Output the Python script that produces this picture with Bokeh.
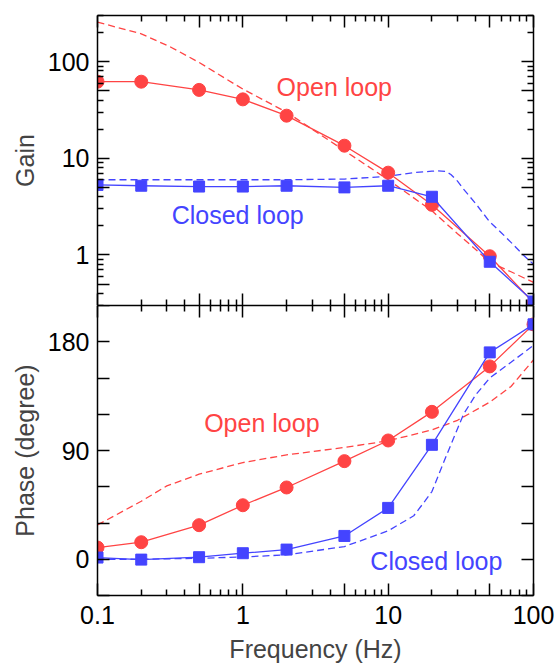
from bokeh.plotting import figure
from bokeh.layouts import column
from bokeh.models import LogAxis, LinearAxis, FixedTicker, Range1d
from bokeh.core.properties import value
from bokeh.embed import file_html
from bokeh.resources import INLINE

# ---- measured data ----
freq = [0.1, 0.2, 0.5, 1, 2, 5, 10, 20, 50, 100]
open_gain = [62, 62, 51, 40.7, 27.6, 13.5, 7.1, 3.3, 0.97, 0.32]
closed_gain = [5.3, 5.2, 5.1, 5.1, 5.2, 5.0, 5.2, 4.0, 0.85, 0.33]
open_phase = [9.7, 14.1, 28.2, 44.7, 59.4, 81.2, 98.3, 122, 159.6, 194.4]
closed_phase = [1.4, -0.3, 1.7, 5.0, 8.0, 19.3, 42.5, 94.7, 171.2, 194.4]

# ---- model curves (dashed) ----
mod_open_gain_f = [0.1, 0.2, 0.32, 0.5, 1, 2, 5, 10, 20, 30, 40, 50, 70, 100]
mod_open_gain = [256, 194, 141, 98, 52, 30, 12, 6.0, 2.86, 1.66, 1.14, 0.84, 0.67, 0.52]
mod_closed_gain_f = [0.1, 0.2, 0.5, 1, 2, 5, 10, 15, 20, 22, 25, 27, 30, 33, 40, 50, 60, 70, 85, 100]
mod_closed_gain = [6.0, 6.0, 6.0, 6.0, 6.0, 6.1, 6.5, 7.1, 7.35, 7.4, 7.3, 6.8, 5.8, 4.8, 3.4, 2.2, 1.7, 1.35, 1.0, 0.8]
mod_open_phase_f = [0.1, 0.2, 0.3, 0.5, 1, 2, 5, 10, 20, 30, 50, 70, 100]
mod_open_phase = [28.4, 48, 60.7, 70.4, 80, 86.4, 92.5, 98, 107, 115, 130, 143, 165]
mod_closed_phase_f = [0.1, 0.2, 0.5, 1, 2, 5, 10, 15, 18, 20, 25, 30, 33, 40, 50, 70, 100]
mod_closed_phase = [0, 0, 0.8, 1.9, 3.6, 10.5, 23.5, 36, 48.5, 56, 85, 108, 120, 136, 150, 163, 177]

x_major = [0.1, 0.5, 1, 5, 10, 50, 100]
x_minor = [0.2, 0.3, 0.4, 0.6, 0.7, 0.8, 0.9, 2, 3, 4, 6, 7, 8, 9,
           20, 30, 40, 60, 70, 80, 90]
x_labels = {0.1: "0.1", 0.5: "", 1: "1", 5: "", 10: "10", 50: "", 100: "100"}
g_major = [0.5, 1, 5, 10, 50, 100]
g_minor = [0.3, 0.4, 0.6, 0.7, 0.8, 0.9, 2, 3, 4, 6, 7, 8, 9,
           20, 30, 40, 60, 70, 80, 90, 200, 300]
g_labels = {0.5: "", 1: "1", 5: "", 10: "10", 50: "", 100: "100"}
ph_major = [0, 90, 180]
ph_minor = [-30, 30, 60, 120, 150, 210]

RED = "#FF4444"
BLUE = "#4444FF"
FONT = "Liberation Sans"
TICK_FS = "25px"
LABEL_FS = "25px"
TEXT_FS = "25px"
DASH = "7 4"


def style_axis(ax, show_labels):
    ax.axis_line_width = 1.5
    ax.axis_line_color = "black"
    ax.major_tick_in = 12
    ax.major_tick_out = 0
    ax.minor_tick_in = 6
    ax.minor_tick_out = 0
    ax.major_tick_line_width = 1.5
    ax.minor_tick_line_width = 1.5
    ax.major_tick_line_color = "black"
    ax.minor_tick_line_color = "black"
    ax.major_label_text_font = FONT
    ax.axis_label_text_font = FONT
    ax.axis_label_text_font_style = "normal"
    ax.axis_label_text_font_size = LABEL_FS
    ax.major_label_text_font_size = TICK_FS
    if show_labels:
        ax.major_label_standoff = 8
        ax.major_label_text_color = "black"
    else:
        ax.major_label_standoff = 0
        ax.major_label_text_color = None


def x_axis(ax, show_labels):
    ax.ticker = FixedTicker(ticks=x_major, minor_ticks=x_minor)
    ax.major_label_overrides = x_labels
    style_axis(ax, show_labels)


# ---------------- top: gain ----------------
p1 = figure(width=554, height=305, x_axis_type="log", y_axis_type="log",
            x_range=Range1d(0.1, 100), y_range=Range1d(0.3, 300),
            output_backend="svg", toolbar_location=None,
            min_border_left=97, min_border_right=21,
            min_border_top=15, min_border_bottom=0)
p1.outline_line_color = None
p1.grid.visible = False
p1.background_fill_color = "white"

x_axis(p1.xaxis[0], False)
top_ax = LogAxis()
x_axis(top_ax, False)
p1.add_layout(top_ax, "above")

gy = p1.yaxis[0]
gy.ticker = FixedTicker(ticks=g_major, minor_ticks=g_minor)
gy.major_label_overrides = g_labels
style_axis(gy, True)
gy.axis_label = "Gain"
gy.axis_label_standoff = 6
r_ax = LogAxis()
r_ax.ticker = FixedTicker(ticks=g_major, minor_ticks=g_minor)
style_axis(r_ax, False)
p1.add_layout(r_ax, "right")

p1.line(mod_open_gain_f, mod_open_gain, line_color=RED, line_width=1.3, line_dash=DASH)
p1.line(mod_closed_gain_f, mod_closed_gain, line_color=BLUE, line_width=1.3, line_dash=DASH)
p1.line(freq, open_gain, line_color=RED, line_width=1.3)
p1.scatter(freq, open_gain, marker="circle", size=13, fill_color=RED, line_color=RED)
p1.line(freq, closed_gain, line_color=BLUE, line_width=1.3)
p1.scatter(freq, closed_gain, marker="square", size=11, fill_color=BLUE, line_color=BLUE)

p1.text(x=[1.708], y=[54.4], text=["Open loop"], text_color=RED,
        text_font=value(FONT), text_font_size=TEXT_FS,
        text_align="left", text_baseline="alphabetic")
p1.text(x=[0.324], y=[2.58], text=["Closed loop"], text_color=BLUE,
        text_font=value(FONT), text_font_size=TEXT_FS,
        text_align="left", text_baseline="alphabetic")

# ---------------- bottom: phase ----------------
p2 = figure(width=554, height=360, x_axis_type="log",
            x_range=p1.x_range, y_range=Range1d(-30, 210),
            output_backend="svg", toolbar_location=None,
            min_border_left=97, min_border_right=21,
            min_border_top=0, min_border_bottom=70)
p2.outline_line_color = None
p2.grid.visible = False
p2.background_fill_color = "white"

bx = p2.xaxis[0]
x_axis(bx, True)
bx.major_label_standoff = 10
bx.axis_label = "Frequency (Hz)"
bx.axis_label_standoff = 8
top_ax2 = LogAxis()
x_axis(top_ax2, False)
p2.add_layout(top_ax2, "above")

ly = p2.yaxis[0]
ly.ticker = FixedTicker(ticks=ph_major, minor_ticks=ph_minor)
style_axis(ly, True)
ly.minor_tick_in = 12
ly.axis_label = "Phase (degree)"
ly.axis_label_standoff = 6
r_ax2 = LinearAxis()
r_ax2.ticker = FixedTicker(ticks=ph_major, minor_ticks=ph_minor)
style_axis(r_ax2, False)
r_ax2.minor_tick_in = 12
p2.add_layout(r_ax2, "right")

p2.line(mod_open_phase_f, mod_open_phase, line_color=RED, line_width=1.3, line_dash=DASH)
p2.line(mod_closed_phase_f, mod_closed_phase, line_color=BLUE, line_width=1.3, line_dash=DASH)
p2.line(freq, open_phase, line_color=RED, line_width=1.3)
p2.scatter(freq, open_phase, marker="circle", size=13, fill_color=RED, line_color=RED)
p2.line(freq, closed_phase, line_color=BLUE, line_width=1.3)
p2.scatter(freq, closed_phase, marker="square", size=11, fill_color=BLUE, line_color=BLUE)

p2.text(x=[0.542], y=[113.1], text=["Open loop"], text_color=RED,
        text_font=value(FONT), text_font_size=TEXT_FS,
        text_align="left", text_baseline="alphabetic")
p2.text(x=[7.54], y=[-1.1], text=["Closed loop"], text_color=BLUE,
        text_font=value(FONT), text_font_size=TEXT_FS,
        text_align="left", text_baseline="alphabetic")

layout = column(p1, p2)
open("out.html", "w").write(file_html(layout, INLINE))
